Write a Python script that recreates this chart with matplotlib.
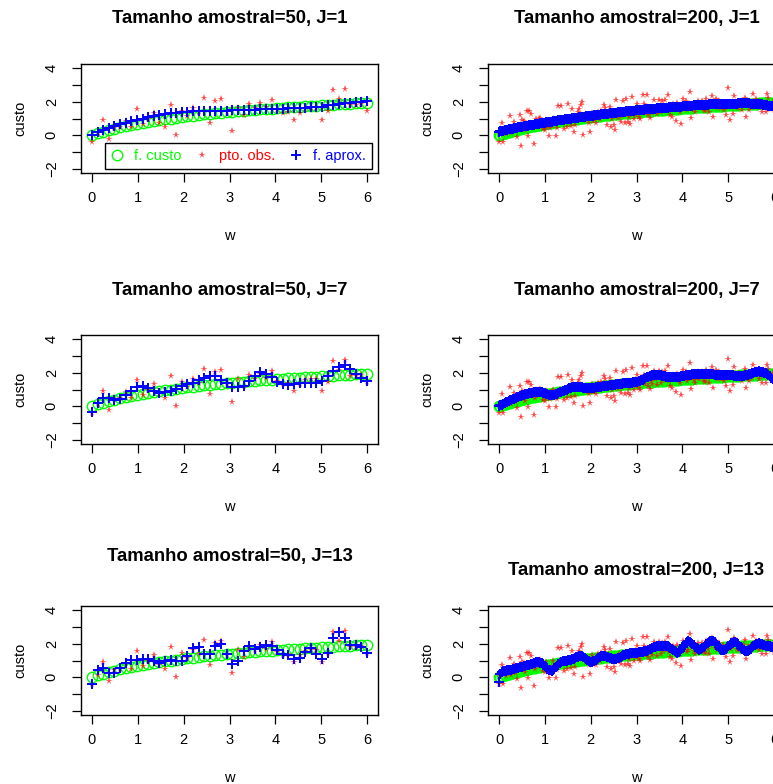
import numpy as np
import matplotlib
matplotlib.use("Agg")
import matplotlib.pyplot as plt
from matplotlib.lines import Line2D

plt.rcParams['font.family'] = ['Liberation Sans', 'DejaVu Sans']

# ---------------- data ----------------
w50 = np.linspace(0, 6, 50)
w200 = np.linspace(0, 6, 200)

custo50 = [0.00, 0.12, 0.22, 0.31, 0.40, 0.48, 0.55, 0.62, 0.68, 0.74,
           0.80, 0.85, 0.90, 0.95, 1.00, 1.04, 1.08, 1.13, 1.16, 1.20,
           1.24, 1.27, 1.31, 1.34, 1.37, 1.40, 1.43, 1.46, 1.49, 1.52,
           1.54, 1.57, 1.59, 1.62, 1.64, 1.67, 1.69, 1.71, 1.73, 1.75,
           1.77, 1.80, 1.82, 1.83, 1.85, 1.87, 1.89, 1.91, 1.93, 1.95]

obs50 = [-0.41, 0.15, 0.92, -0.24, 0.45, 0.50, 0.84, 0.50, 1.58, 0.66,
         1.00, 1.30, 0.75, 0.47, 1.80, 0.00, 1.45, 1.15, 1.63, 1.40,
         2.20, 0.74, 2.02, 2.18, 1.38, 0.28, 1.62, 1.20, 1.84, 1.65,
         1.90, 1.70, 2.08, 1.50, 1.30, 1.40, 0.90, 1.30, 1.55, 1.65,
         1.60, 0.90, 1.42, 2.70, 2.15, 2.78, 1.80, 1.80, 1.85, 1.42]

aprox50_J1 = [0.00, 0.22, 0.33, 0.45, 0.53, 0.65, 0.76, 0.86, 0.92, 1.00,
              1.06, 1.14, 1.18, 1.24, 1.31, 1.35, 1.39, 1.41, 1.43, 1.43,
              1.45, 1.45, 1.45, 1.47, 1.47, 1.49, 1.49, 1.51, 1.53, 1.53,
              1.55, 1.57, 1.57, 1.59, 1.59, 1.61, 1.61, 1.63, 1.65, 1.67,
              1.69, 1.71, 1.78, 1.82, 1.86, 1.90, 1.92, 1.96, 1.98, 2.02]

aprox50_J7 = [-0.35, 0.20, 0.47, 0.47, 0.36, 0.44, 0.69, 0.89, 1.15, 1.18,
              1.09, 0.94, 0.81, 0.84, 0.92, 1.04, 1.22, 1.34, 1.39, 1.55,
              1.71, 1.83, 1.83, 1.59, 1.36, 1.17, 1.12, 1.22, 1.50, 1.80,
              2.02, 1.95, 1.72, 1.45, 1.30, 1.25, 1.30, 1.38, 1.38, 1.38,
              1.38, 1.50, 1.78, 2.08, 2.32, 2.45, 2.20, 1.90, 1.70, 1.48]

aprox50_J13 = [-0.40, 0.46, 0.53, 0.26, 0.26, 0.53, 0.87, 1.01, 1.01, 1.07,
               1.11, 0.97, 0.87, 0.97, 1.01, 0.97, 0.97, 1.27, 1.74, 1.78,
               1.41, 1.41, 1.88, 1.98, 1.41, 0.81, 0.97, 1.58, 1.88, 1.68,
               1.78, 1.94, 1.88, 1.62, 1.37, 1.33, 1.07, 1.17, 1.52, 1.74,
               1.37, 1.07, 1.47, 2.34, 2.69, 2.32, 1.94, 1.94, 1.82, 1.43]

custo200 = [0.00, 0.03, 0.06, 0.09, 0.11, 0.14, 0.17, 0.19, 0.22, 0.24,
            0.26, 0.29, 0.31, 0.33, 0.35, 0.37, 0.39, 0.41, 0.43, 0.45,
            0.47, 0.49, 0.51, 0.53, 0.54, 0.56, 0.58, 0.60, 0.61, 0.63,
            0.64, 0.66, 0.68, 0.69, 0.71, 0.72, 0.73, 0.75, 0.76, 0.78,
            0.79, 0.80, 0.82, 0.83, 0.84, 0.86, 0.87, 0.88, 0.89, 0.91,
            0.92, 0.93, 0.94, 0.95, 0.97, 0.98, 0.99, 1.00, 1.01, 1.02,
            1.03, 1.04, 1.05, 1.06, 1.07, 1.09, 1.10, 1.11, 1.12, 1.13,
            1.13, 1.14, 1.15, 1.16, 1.17, 1.18, 1.19, 1.20, 1.21, 1.22,
            1.23, 1.24, 1.24, 1.25, 1.26, 1.27, 1.28, 1.29, 1.30, 1.30,
            1.31, 1.32, 1.33, 1.34, 1.34, 1.35, 1.36, 1.37, 1.37, 1.38,
            1.39, 1.40, 1.40, 1.41, 1.42, 1.43, 1.43, 1.44, 1.45, 1.46,
            1.46, 1.47, 1.48, 1.48, 1.49, 1.50, 1.50, 1.51, 1.52, 1.52,
            1.53, 1.54, 1.54, 1.55, 1.56, 1.56, 1.57, 1.57, 1.58, 1.59,
            1.59, 1.60, 1.61, 1.61, 1.62, 1.62, 1.63, 1.64, 1.64, 1.65,
            1.65, 1.66, 1.66, 1.67, 1.68, 1.68, 1.69, 1.69, 1.70, 1.70,
            1.71, 1.71, 1.72, 1.73, 1.73, 1.74, 1.74, 1.75, 1.75, 1.76,
            1.76, 1.77, 1.77, 1.78, 1.78, 1.79, 1.79, 1.80, 1.80, 1.81,
            1.81, 1.82, 1.82, 1.83, 1.83, 1.84, 1.84, 1.85, 1.85, 1.86,
            1.86, 1.87, 1.87, 1.87, 1.88, 1.88, 1.89, 1.89, 1.90, 1.90,
            1.91, 1.91, 1.92, 1.92, 1.92, 1.93, 1.93, 1.94, 1.94, 1.95]

obs200 = [-0.39, 0.05, 0.76, -0.39, 0.20, 0.10, 0.27, 0.35, 1.14, 0.15,
          0.45, 0.80, 0.25, -0.12, 0.50, 1.20, -0.63, 0.90, 0.84, 0.30,
          1.45, -0.06, 1.45, 1.25, 0.60, -0.53, 0.49, 1.00, 0.70, 1.00,
          1.04, 0.75, 0.39, 0.29, 0.90, 0.49, -0.02, 0.43, 0.59, 0.95,
          0.70, -0.06, 0.45, 1.72, 0.95, 1.76, 0.80, 0.39, 1.00, 0.49,
          1.86, 0.90, 0.55, 1.55, 0.19, 0.59, 1.10, 1.41, 1.57, 1.78,
          1.98, 0.02, 1.20, 0.90, 1.15, 0.76, 0.19, 1.30, 0.84, 1.00,
          0.75, 1.10, 1.37, 0.95, 1.45, 1.20, 1.78, 1.61, 0.59, 1.30,
          1.71, 0.49, 1.00, 0.59, 0.29, 2.12, 1.04, 1.40, 0.80, 1.15,
          2.06, 0.75, 2.18, 0.80, 1.10, 0.70, 2.27, 1.30, 1.00, 1.20,
          1.86, 1.10, 0.95, 1.50, 2.39, 1.86, 1.30, 2.39, 1.20, 1.04,
          1.50, 1.30, 2.12, 1.60, 1.25, 1.70, 2.12, 1.40, 2.02, 1.55,
          2.12, 1.60, 2.39, 1.50, 1.20, 1.10, 1.85, 1.70, 0.84, 1.90,
          1.60, 1.40, 0.69, 2.18, 1.75, 2.02, 1.50, 1.65, 2.59, 1.04,
          1.80, 1.55, 1.37, 1.70, 2.02, 1.60, 1.75, 2.06, 1.50, 1.45,
          2.18, 1.70, 1.37, 1.90, 2.33, 1.10, 1.75, 2.18, 1.60, 2.06,
          1.85, 1.61, 1.95, 1.50, 1.20, 1.80, 2.80, 0.90, 1.70, 1.25,
          2.33, 1.90, 1.70, 1.61, 2.00, 1.75, 1.51, 1.95, 2.22, 1.10,
          1.80, 1.51, 1.95, 1.70, 2.43, 1.85, 2.18, 1.90, 1.60, 2.00,
          1.37, 1.80, 1.95, 1.37, 2.43, 2.22, 1.75, 1.61, 2.00, 1.50]

aprox200_J1 = [0.22, 0.24, 0.26, 0.28, 0.30, 0.32, 0.33, 0.35, 0.37, 0.38,
               0.40, 0.42, 0.44, 0.45, 0.47, 0.49, 0.50, 0.52, 0.54, 0.55,
               0.57, 0.58, 0.60, 0.61, 0.63, 0.64, 0.66, 0.67, 0.69, 0.70,
               0.72, 0.73, 0.74, 0.76, 0.77, 0.78, 0.80, 0.81, 0.82, 0.84,
               0.85, 0.86, 0.88, 0.89, 0.90, 0.92, 0.93, 0.94, 0.96, 0.97,
               0.98, 0.99, 1.00, 1.01, 1.02, 1.03, 1.04, 1.05, 1.06, 1.08,
               1.09, 1.10, 1.11, 1.12, 1.13, 1.14, 1.15, 1.16, 1.17, 1.19,
               1.20, 1.21, 1.22, 1.23, 1.24, 1.25, 1.26, 1.27, 1.28, 1.29,
               1.30, 1.31, 1.32, 1.33, 1.34, 1.35, 1.36, 1.37, 1.38, 1.39,
               1.40, 1.41, 1.42, 1.43, 1.44, 1.44, 1.45, 1.46, 1.47, 1.48,
               1.49, 1.50, 1.51, 1.51, 1.52, 1.53, 1.54, 1.55, 1.55, 1.56,
               1.57, 1.58, 1.58, 1.59, 1.60, 1.60, 1.61, 1.62, 1.62, 1.63,
               1.64, 1.65, 1.65, 1.66, 1.66, 1.67, 1.67, 1.68, 1.69, 1.69,
               1.70, 1.71, 1.71, 1.72, 1.73, 1.73, 1.74, 1.75, 1.75, 1.76,
               1.77, 1.78, 1.78, 1.79, 1.79, 1.80, 1.80, 1.81, 1.82, 1.82,
               1.83, 1.83, 1.84, 1.84, 1.85, 1.85, 1.85, 1.86, 1.86, 1.87,
               1.87, 1.87, 1.87, 1.88, 1.88, 1.88, 1.88, 1.89, 1.89, 1.89,
               1.89, 1.89, 1.89, 1.90, 1.90, 1.90, 1.90, 1.90, 1.90, 1.90,
               1.90, 1.90, 1.89, 1.89, 1.88, 1.88, 1.87, 1.86, 1.86, 1.85,
               1.84, 1.83, 1.82, 1.80, 1.79, 1.77, 1.76, 1.74, 1.72, 1.70]

aprox200_J7 = [0.00, 0.05, 0.09, 0.14, 0.18, 0.23, 0.27, 0.31, 0.35, 0.39,
               0.42, 0.46, 0.49, 0.53, 0.56, 0.59, 0.62, 0.65, 0.68, 0.71,
               0.73, 0.75, 0.77, 0.79, 0.81, 0.83, 0.84, 0.85, 0.86, 0.86,
               0.85, 0.84, 0.82, 0.79, 0.75, 0.71, 0.68, 0.66, 0.65, 0.66,
               0.68, 0.71, 0.75, 0.79, 0.83, 0.87, 0.91, 0.94, 0.97, 1.00,
               1.03, 1.06, 1.09, 1.12, 1.14, 1.16, 1.16, 1.15, 1.14, 1.13,
               1.12, 1.11, 1.10, 1.10, 1.10, 1.10, 1.10, 1.10, 1.10, 1.11,
               1.12, 1.13, 1.14, 1.16, 1.17, 1.18, 1.19, 1.20, 1.21, 1.22,
               1.24, 1.25, 1.26, 1.27, 1.29, 1.30, 1.31, 1.32, 1.34, 1.35,
               1.36, 1.37, 1.38, 1.39, 1.40, 1.41, 1.41, 1.42, 1.43, 1.44,
               1.46, 1.48, 1.51, 1.55, 1.59, 1.63, 1.68, 1.72, 1.76, 1.79,
               1.82, 1.84, 1.86, 1.87, 1.88, 1.88, 1.87, 1.85, 1.83, 1.80,
               1.78, 1.76, 1.74, 1.73, 1.72, 1.72, 1.72, 1.72, 1.72, 1.73,
               1.74, 1.76, 1.78, 1.80, 1.82, 1.84, 1.86, 1.87, 1.88, 1.89,
               1.90, 1.91, 1.91, 1.92, 1.92, 1.92, 1.92, 1.92, 1.92, 1.92,
               1.92, 1.92, 1.91, 1.91, 1.90, 1.90, 1.89, 1.89, 1.88, 1.88,
               1.88, 1.88, 1.88, 1.87, 1.87, 1.86, 1.86, 1.85, 1.85, 1.84,
               1.83, 1.82, 1.82, 1.81, 1.81, 1.81, 1.82, 1.83, 1.85, 1.86,
               1.88, 1.91, 1.94, 1.97, 2.00, 2.03, 2.05, 2.07, 2.08, 2.07,
               2.06, 2.04, 2.01, 1.97, 1.92, 1.86, 1.79, 1.71, 1.63, 1.55]

aprox200_J13 = [-0.30, 0.20, 0.30, 0.35, 0.37, 0.39, 0.41, 0.43, 0.45, 0.46,
                0.48, 0.50, 0.53, 0.55, 0.58, 0.60, 0.62, 0.64, 0.67, 0.69,
                0.71, 0.73, 0.76, 0.79, 0.82, 0.85, 0.88, 0.90, 0.91, 0.90,
                0.88, 0.84, 0.78, 0.70, 0.61, 0.52, 0.45, 0.41, 0.40, 0.42,
                0.50, 0.60, 0.70, 0.80, 0.88, 0.94, 0.97, 0.99, 1.00, 1.00,
                1.01, 1.02, 1.04, 1.07, 1.10, 1.14, 1.18, 1.22, 1.25, 1.27,
                1.26, 1.22, 1.16, 1.10, 1.04, 0.98, 0.94, 0.93, 0.95, 0.99,
                1.04, 1.10, 1.16, 1.21, 1.25, 1.27, 1.27, 1.25, 1.22, 1.19,
                1.17, 1.14, 1.11, 1.08, 1.07, 1.08, 1.12, 1.17, 1.22, 1.27,
                1.30, 1.33, 1.36, 1.38, 1.40, 1.42, 1.43, 1.44, 1.45, 1.46,
                1.47, 1.48, 1.49, 1.50, 1.52, 1.54, 1.56, 1.59, 1.62, 1.66,
                1.70, 1.74, 1.78, 1.82, 1.85, 1.87, 1.88, 1.89, 1.89, 1.89,
                1.88, 1.87, 1.85, 1.80, 1.74, 1.67, 1.60, 1.54, 1.50, 1.47,
                1.50, 1.58, 1.68, 1.80, 1.92, 2.03, 2.11, 2.14, 2.12, 2.06,
                1.99, 1.90, 1.81, 1.72, 1.66, 1.64, 1.66, 1.72, 1.80, 1.88,
                1.96, 2.05, 2.12, 2.17, 2.18, 2.15, 2.08, 1.99, 1.90, 1.80,
                1.71, 1.65, 1.62, 1.63, 1.68, 1.76, 1.85, 1.94, 2.02, 2.07,
                2.09, 2.08, 2.03, 1.96, 1.87, 1.77, 1.68, 1.61, 1.56, 1.54,
                1.56, 1.62, 1.70, 1.78, 1.86, 1.93, 1.98, 2.01, 2.02, 2.01,
                1.98, 1.94, 1.90, 1.87, 1.86, 1.86, 1.85, 1.82, 1.78, 1.74]

titulos = ["Tamanho amostral=50, J=1", "Tamanho amostral=200, J=1",
           "Tamanho amostral=50, J=7", "Tamanho amostral=200, J=7",
           "Tamanho amostral=50, J=13", "Tamanho amostral=200, J=13"]

VERDE = '#00FF00'
VERMELHO = '#FF0000'
AZUL = '#0000FF'

W, H = 773, 784
fig = plt.figure(figsize=(W / 100, H / 100), dpi=100)

# panel box positions in pixels (left, top), size 297 x 109
lefts = [81, 488]
tops = [64, 335, 606]
title_gap = [[46, 46], [45, 45], [49, 36]]
pw, ph = 297, 109


def painel(ax, w, custo, obs, aprox, titulo, gap):
    ax.plot(w, custo, 'o', mfc='none', mec=VERDE, ms=7.5, mew=1.0)
    ax.plot(w, obs, '*', color=VERMELHO, alpha=0.7, ms=5.5, mew=0)
    ax.plot(w, aprox, '+', color=AZUL, ms=7, mew=1.4)
    ax.set_xlim(-0.24, 6.24)
    ax.set_ylim(-2.24, 4.24)
    ax.set_xticks(range(0, 7))
    ax.set_yticks(range(-2, 5))
    ax.set_yticklabels(['\u22122', '', '0', '', '2', '', '4'])
    ax.tick_params(direction='out', length=6.5, width=0.9, labelsize=10.5)
    ax.tick_params(axis='x', pad=6.5)
    ax.tick_params(axis='y', pad=9.5, labelrotation=90)
    for lab in ax.get_yticklabels():
        lab.set_va('center')
    for s in ax.spines.values():
        s.set_linewidth(1.0)
    ax.set_xlabel('w', fontsize=10.5)
    ax.set_ylabel('custo', fontsize=10.5)
    ax.xaxis.set_label_coords(0.5, -63 / ph)
    ax.xaxis.label.set_va('center')
    ax.yaxis.set_label_coords(-61 / pw, 0.5)
    ax.yaxis.label.set_va('center')
    ax.text(0.5, 1 + gap / ph, titulo, transform=ax.transAxes, ha='center',
            va='center', fontsize=13.3, fontweight='bold')


dados = [(custo50, obs50, aprox50_J1), (custo200, obs200, aprox200_J1),
         (custo50, obs50, aprox50_J7), (custo200, obs200, aprox200_J7),
         (custo50, obs50, aprox50_J13), (custo200, obs200, aprox200_J13)]

eixos = []
for k in range(6):
    r, c = divmod(k, 2)
    x0 = lefts[c] / W
    y0 = 1 - (tops[r] + ph) / H
    ax = fig.add_axes([x0, y0, pw / W, ph / H])
    w = w50 if c == 0 else w200
    custo, obs, aprox = dados[k]
    painel(ax, w, custo, obs, aprox, titulos[k], title_gap[r][c])
    eixos.append(ax)

# legend in the first panel
ax = eixos[0]
handles = [Line2D([], [], ls='none', marker='o', mfc='none', mec=VERDE, ms=7.5, mew=1.0),
           Line2D([], [], ls='none', marker='*', color=VERMELHO, alpha=0.7, ms=5.5, mew=0),
           Line2D([], [], ls='none', marker='+', color=AZUL, ms=7, mew=1.4)]
leg = ax.legend(handles, ['f. custo', 'pto. obs.', 'f. aprox.'], ncol=3,
                loc='lower left', bbox_to_anchor=(0.081, 0.037, 0.899, 0.275),
                mode='expand', fontsize=10.5, handlelength=0.8, handletextpad=0.8,
                columnspacing=1.0, borderpad=0.4, borderaxespad=0,
                fancybox=False, framealpha=1, edgecolor='black')
leg.get_frame().set_linewidth(1.0)
for t, col in zip(leg.get_texts(), [VERDE, VERMELHO, AZUL]):
    t.set_color(col)

fig.savefig('out.png', dpi=100)
